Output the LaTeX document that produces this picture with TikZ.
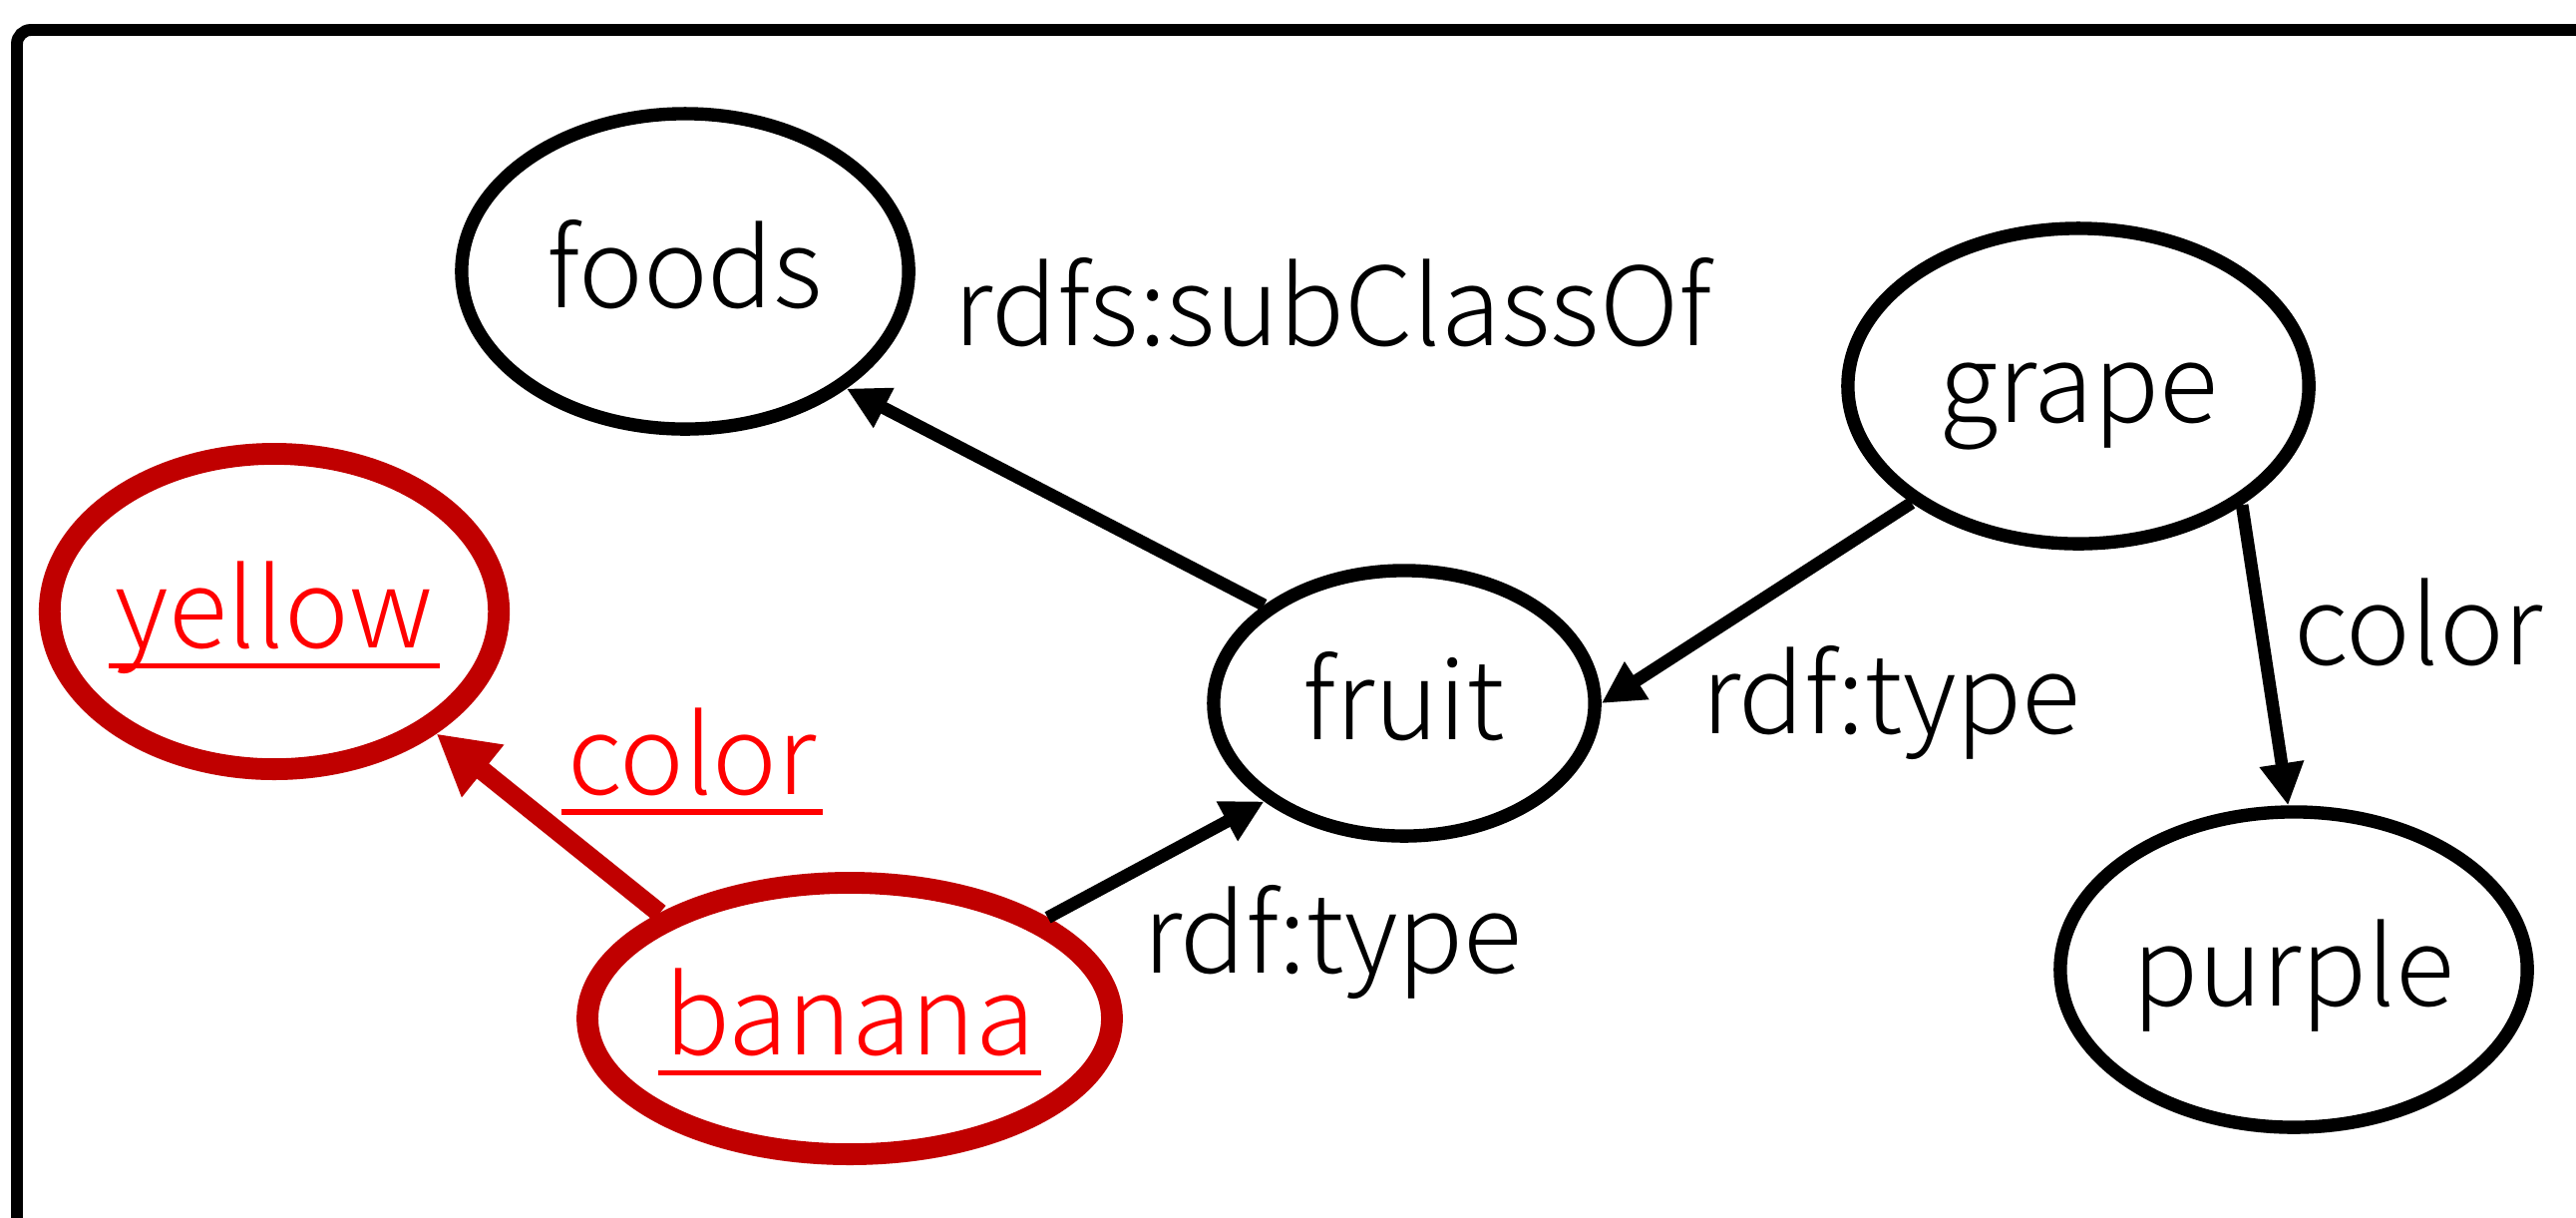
\documentclass[tikz,border=0pt]{standalone}
\usepackage{fontspec}
\setmainfont{Noto Sans CJK JP Light}
\usetikzlibrary{shapes.geometric,arrows.meta}
\definecolor{nodered}{HTML}{C00000}
\definecolor{textred}{HTML}{FF0000}
\newsavebox\ulbox
% underlined word with the rule at a fixed depth below the baseline
\newcommand\ulword[1]{\sbox\ulbox{#1}\rlap{\kern-0.06em\rule[-0.19em]{\dimexpr\wd\ulbox+0.12em\relax}{0.05em}}\usebox\ulbox}
\tikzset{
  base font/.style={font=\fontsize{31}{36}\selectfont},
  resource/.style={ellipse, draw=black, line width=3.8pt, inner sep=0pt,
    text height=28pt, text depth=7.4pt, base font},
  hilite/.style={ellipse, draw=nodered, line width=6.2pt, inner sep=0pt,
    text height=28pt, text depth=7.4pt, base font, text=textred},
  link/.style={line width=3.6pt, -{Triangle[length=12pt,width=12pt]}},
  redlink/.style={draw=nodered, line width=5.5pt, -{Triangle[length=17pt,width=18pt]}},
  edgelabel/.style={anchor=base, base font, inner sep=0pt},
}
\begin{document}
\begin{tikzpicture}[x=0.01cm, y=-0.01cm]
\useasboundingbox (0,0) rectangle (2583,1220);
\clip (0,0) rectangle (2583,1220);
% outer frame, running past the right and bottom edges
\draw[line width=3.4pt, rounded corners=4pt] (17,1400) -- (17,30) -- (2800,30);

% nodes
\node[resource, minimum width=4.48cm, minimum height=3.16cm] (foods) at (687,272) {foods};
\node[resource, minimum width=3.82cm, minimum height=2.66cm] (fruit) at (1408,705) {fruit};
\node[resource, minimum width=4.62cm, minimum height=3.16cm] (grape) at (2084,387) {grape};
\node[resource, minimum width=4.68cm, minimum height=3.16cm] (purple) at (2300,972) {purple};
\node[hilite, minimum width=4.24cm, minimum height=3.16cm] (yellow) at (275,613) {\ulword{yellow}};
\node[hilite, minimum width=5.24cm, minimum height=2.72cm] (banana) at (852,1021) {\ulword{banana}};

% edges
\draw[link] (fruit.145) -- (foods.-36);
\draw[link] (banana.27) -- (fruit.215);
\draw[link] (grape.215) -- (fruit.0);
\draw[link] (grape.-36) -- (purple.92);
\draw[redlink] (banana.151) -- (yellow.-37);

% edge labels
\node[edgelabel] (lsub) at (1336,346) {rdfs:subClassOf};
\node[edgelabel] (ltype1) at (1336,975) {rdf:type};
\node[edgelabel] (ltype2) at (1896,735) {rdf:type};
\node[edgelabel] (lcolor1) at (2425,666) {color};
\node[edgelabel, text=textred] (lcolor2) at (694,796) {\ulword{color}};
\end{tikzpicture}
\end{document}
